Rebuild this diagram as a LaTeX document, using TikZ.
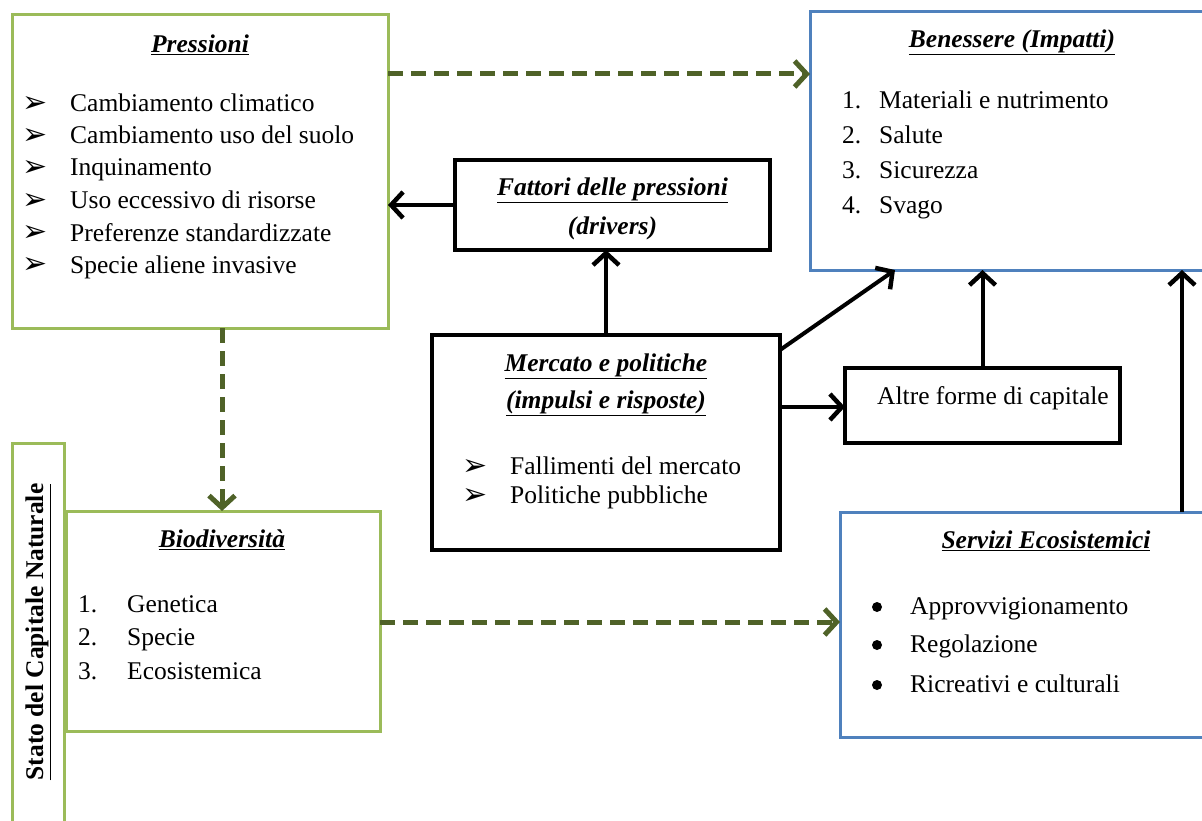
\documentclass[tikz,border=0pt]{standalone}
\usepackage{fontspec}
\setmainfont{Liberation Serif}
\newfontfamily\symfont{DejaVu Sans}
\usetikzlibrary{arrows.meta}
\definecolor{lgreen}{HTML}{9BBB59}
\definecolor{dgreen}{HTML}{4F6228}
\definecolor{lblue}{HTML}{4F81BD}
\newcommand{\ttl}[1]{\textbf{\textit{\underline{#1}}}}
\newcommand{\chev}{{\symfont\fontsize{30}{30}\selectfont ➢}}
\begin{document}
\begin{tikzpicture}[x=1pt,y=-1pt,
  every node/.style={font=\fontsize{25.5}{32}\selectfont, inner sep=0pt},
  gbox/.style={draw=lgreen, line width=3pt, rectangle, outer sep=0pt},
  bbox/.style={draw=lblue, line width=3pt, rectangle, outer sep=0pt},
  kbox/.style={draw=black, line width=4pt, rectangle, outer sep=0pt},
  txt/.style={anchor=base west},
  sym/.style={anchor=west},
  dot/.style={circle, fill=black, minimum size=10pt},
  dasharrow/.style={draw=dgreen, line width=5pt, dash pattern=on 15pt off 8pt, -{Straight Barb[length=12pt,width=26pt,line width=5pt]}},
  karrow/.style={draw=black, line width=4pt, -{Straight Barb[length=12pt,width=26pt,line width=4.5pt]}}
]
\useasboundingbox (0,0) rectangle (1202,821);
\clip (0,0) rectangle (1202,821);
\fill[white] (0,0) rectangle (1202,821);

% boxes
\node[gbox, minimum width=376pt, minimum height=313pt] (pres) at (200,171.5) {};
\node[bbox, minimum width=394pt, minimum height=258pt] (ben) at (1007,141) {};
\node[kbox, minimum width=315pt, minimum height=90pt] (fat) at (612.5,205) {};
\node[kbox, minimum width=348pt, minimum height=215pt] (mer) at (606,442.5) {};
\node[kbox, minimum width=275pt, minimum height=75pt] (alt) at (982.5,405.5) {};
\node[bbox, minimum width=364pt, minimum height=225pt] (ser) at (1022,624.5) {};
\node[gbox, minimum width=52pt, minimum height=387pt] (sta) at (38,636.5) {};
\node[gbox, minimum width=314pt, minimum height=220pt] (bio) at (223,621) {};

% Pressioni
\node (presT) at (200,45) {\ttl{Pressioni}};
\foreach \y/\t [count=\i] in {104/Cambiamento climatico,136/Cambiamento uso del suolo,168/Inquinamento,201/Uso eccessivo di risorse,233/Preferenze standardizzate,265/Specie aliene invasive}{
  \node[sym] (presB\i) at (22,\y+1) {\chev};
  \node[txt] (presI\i) at (70,\y+8) {\t};
}

% Benessere
\node (benT) at (1012,42) {\ttl{Benessere (Impatti)}};
\foreach \y/\t [count=\i] in {101/Materiali e nutrimento,136/Salute,171/Sicurezza,206/Svago}{
  \node[txt] (benN\i) at (842,\y+8) {\i.};
  \node[txt] (benI\i) at (879,\y+8) {\t};
}

% Fattori
\node (fatT1) at (612.5,190) {\ttl{Fattori delle pressioni}};
\node (fatT2) at (612.5,228) {\textbf{\textit{(drivers)}}};

% Mercato
\node (merT1) at (606,366) {\ttl{Mercato e politiche}};
\node (merT2) at (606,403) {\ttl{(impulsi e risposte)}};
\node[sym] (merB1) at (462,467) {\chev};
\node[txt] (merI1) at (510,466+8) {Fallimenti del mercato};
\node[sym] (merB2) at (462,496) {\chev};
\node[txt] (merI2) at (510,495+8) {Politiche pubbliche};

% Altre
\node[txt] (altT) at (877,396+8) {Altre forme di capitale};

% Servizi
\node (serT) at (1046,541) {\ttl{Servizi Ecosistemici}};
\foreach \y/\t [count=\i] in {606/Approvvigionamento,644/Regolazione,684/Ricreativi e culturali}{
  \node[dot] (serB\i) at (877,\y+1) {};
  \node[txt] (serI\i) at (910,\y+8) {\t};
}

% Biodiversita
\node (bioT) at (222,540) {\ttl{Biodiversità}};
\foreach \y/\t [count=\i] in {604/Genetica,637/Specie,671/Ecosistemica}{
  \node[txt] (bioN\i) at (78,\y+8) {\i.};
  \node[txt] (bioI\i) at (127,\y+8) {\t};
}

% Stato
\node[rotate=90] (staT) at (38,632) {\textbf{\underline{Stato del Capitale Naturale}}};

% dashed arrows
\draw[dasharrow] ([yshift=-59pt]pres.north east) -- ([yshift=-62pt]ben.north west);
\draw[dasharrow] ([xshift=22pt]pres.south) -- ([xshift=-1pt]bio.north);
\draw[dasharrow] ([yshift=-111pt]bio.north east) -- ([yshift=-110pt]ser.north west);

% black arrows
\draw[karrow] (fat.west) -- (fat.west -| pres.east);
\draw[karrow] (mer.north) -- (mer.north |- fat.south);
\draw[karrow] ([yshift=-15pt]mer.north east) -- ([xshift=85pt]ben.south west);
\draw[karrow] ([yshift=-72pt]mer.north east) -- ([yshift=-72pt]mer.north east -| alt.west);
\draw[karrow] (alt.north) -- (alt.north |- ben.south);
\draw[karrow] ([xshift=160pt]ser.north) -- ([xshift=160pt]ser.north |- ben.south);
\end{tikzpicture}
\end{document}
